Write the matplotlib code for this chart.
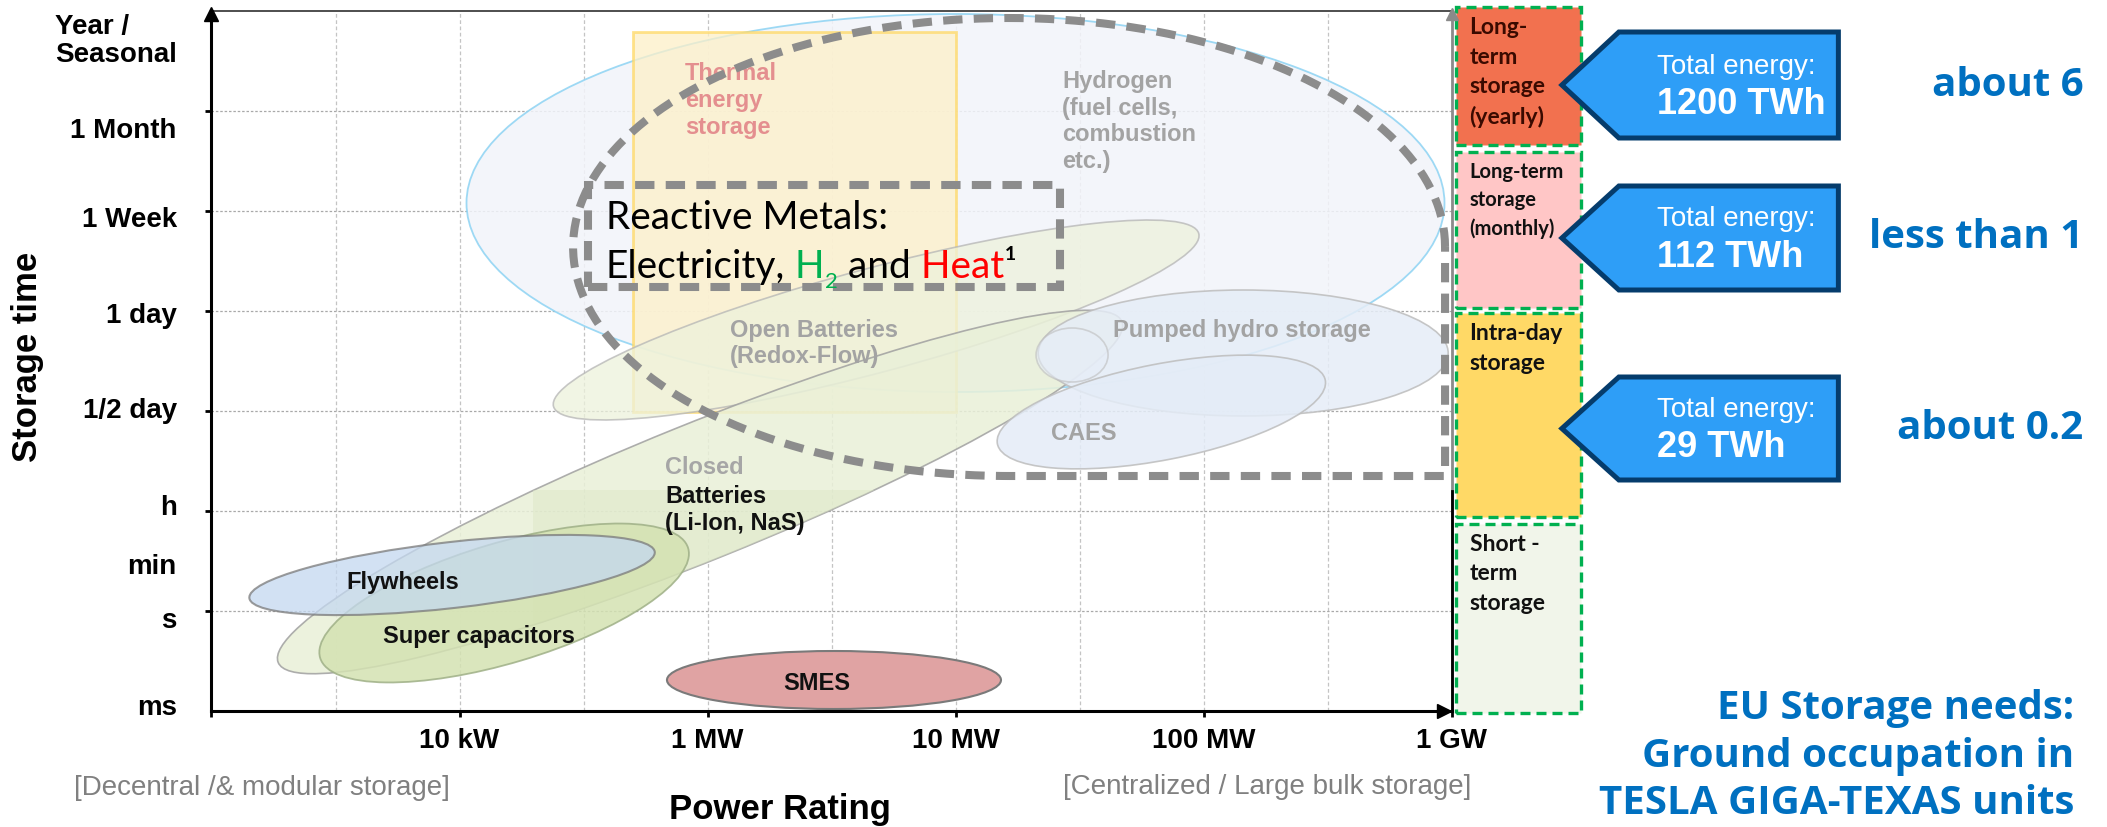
import numpy as np
import matplotlib
matplotlib.use("Agg")
import matplotlib.pyplot as plt
from matplotlib.patches import Ellipse, Rectangle, Polygon
from matplotlib.transforms import Affine2D

plt.rcParams['font.family'] = ['Liberation Sans', 'DejaVu Sans']

# ---------------- data ----------------
power_positions = [0, 1, 2, 3, 4, 5]
power_labels = ['', '10 kW', '1 MW', '10 MW', '100 MW', '1 GW']
time_positions = [1, 2, 3, 4, 5, 6]
time_label_positions = [0.06, 0.93, 1.47, 2.06, 3.03, 3.98, 4.94, 5.83, 6.74]
time_labels = ['ms', 's', 'min', 'h', '1/2 day', '1 day', '1 Week', '1 Month',
               'Year /\nSeasonal']

# technology regions: centre on power axis, centre on storage-time axis,
# half length, half width, tilt
tech_names = ['Hydrogen', 'Open Batteries', 'Closed Batteries', 'Pumped hydro',
              'Pumped hydro (reservoir)', 'CAES', 'Super capacitors',
              'Flywheels', 'SMES']
tech_power = [3.00, 2.68, 1.97, 4.16, 3.47, 3.83, 1.18, 0.97, 2.51]
tech_time = [5.08, 3.91, 2.19, 3.58, 3.56, 2.99, 1.08, 1.36, 0.31]
tech_half_len = [4.89, 3.34, 4.55, 2.05, 0.36, 1.67, 1.92, 2.04, 1.67]
tech_half_wid = [1.89, 0.52, 0.68, 0.63, 0.27, 0.48, 0.60, 0.33, 0.29]
tech_tilt = [0, 15, 22, 0, 0, 11, 16.6, 6.5, 0]

thermal_power = [1.70, 3.00]
thermal_time = [2.99, 6.79]

rm_power_center, rm_time_center = 3.216, 4.64
rm_power_half, rm_time_half = 1.758, 2.29
rm_box_power = [1.518, 3.42]
rm_box_time = [4.24, 5.26]

class_labels = ['Long-\nterm\nstorage\n(yearly)', 'Long-term\nstorage\n(monthly)',
                'Intra-day\nstorage', 'Short -\nterm\nstorage']
class_top = [7.04, 5.59, 3.98, 1.87]
class_bottom = [5.66, 4.03, 1.94, -0.02]

energy_labels = ['1200 TWh', '112 TWh', '29 TWh']
callout_top = [6.79, 5.25, 3.34]
callout_bottom = [5.73, 4.21, 2.31]
giga_texas_units = ['about 6', 'less than 1', 'about 0.2']

# ---------------- figure ----------------
PX_X, PX_Y = 248.0, 100.0
K = PX_X / PX_Y
fig = plt.figure(figsize=(21.07, 8.27), dpi=100)
ax = fig.add_axes([0, 0, 1, 1])
ax.set_xlim(-211.5 / PX_X, (2107 - 211.5) / PX_X)
ax.set_ylim(-1.16, 7.11)
scaled = Affine2D().scale(1.0 / K, 1.0) + ax.transData

# spines / axes
for s in ['top', 'right']:
    ax.spines[s].set_visible(False)
ax.spines['left'].set_position(('data', 0))
ax.spines['left'].set_bounds(0, 7)
ax.spines['bottom'].set_position(('data', 0))
ax.spines['bottom'].set_bounds(0, 5)
for s in ['left', 'bottom']:
    ax.spines[s].set_linewidth(2.2)
    ax.spines[s].set_zorder(6)

ax.set_xticks(power_positions)
ax.set_xticklabels(power_labels, fontsize=20, fontweight='bold')
ax.set_yticks(time_positions)
ax.set_yticklabels([''] * len(time_positions))
ax.set_yticks(time_label_positions, minor=True)
ax.set_yticklabels(time_labels, minor=True, fontsize=20, fontweight='bold')
ax.tick_params(axis='x', which='major', direction='out', length=4.5, width=2, pad=8)
ax.tick_params(axis='y', which='major', direction='out', length=4.5, width=2)
ax.tick_params(axis='y', which='minor', length=0, pad=25)
for t in ax.get_yticklabels(minor=True):
    if '\n' in t.get_text():
        t.set_multialignment('left')
        t.set_linespacing(1.08)

ax.set_ylabel('Storage time', fontsize=25, fontweight='bold', va='center')
ax.yaxis.set_label_coords(28 / 2107, 1 - 357 / 827)
ax.set_xlabel('Power Rating', fontsize=25, fontweight='bold', va='center')
ax.xaxis.set_label_coords(780 / 2107, 1 - 810 / 827)

# arrows and frame lines
ax.plot([0], [6.97], marker='^', ms=10, color='black', clip_on=False, zorder=7)
ax.plot([4.97], [0], marker='>', ms=10, color='black', clip_on=False, zorder=7)
ax.plot([0, 5], [7, 7], color='#404040', lw=1.3, zorder=6)
ax.plot([5, 5], [0, 7], color='#8a8a8a', lw=2, zorder=6)
ax.plot([5, 5], [0, 2.2], color='black', lw=2, zorder=6)
ax.plot([5], [6.97], marker='^', ms=9, color='#8a8a8a', zorder=7)

# grid
for gx in np.arange(0.5, 5.0, 0.5):
    ax.plot([gx, gx], [0, 7], color='#c4c4c4', lw=0.9, ls=(0, (3, 2)), zorder=0.5)
for gy in time_positions:
    ax.plot([0, 5], [gy, gy], color='#a9a9a9', lw=0.9, ls=(0, (2, 1.5)), zorder=0.5)

# ---------------- technology regions ----------------
tech_style = {
    'Hydrogen': dict(fc='#f2f4fa', ec='#8dd3f3', alpha=0.85, lw=1.3),
    'Open Batteries': dict(fc='#edf2dc', ec='#b5b5b5', alpha=0.75, lw=1.2),
    'Closed Batteries': dict(fc='#e9f0d8', ec='#a0a0a0', alpha=0.85, lw=1.2),
    'Pumped hydro': dict(fc='#e6edf7', ec='#bdbdbd', alpha=0.85, lw=1.2),
    'Pumped hydro (reservoir)': dict(fc='#e6edf7', ec='#bdbdbd', alpha=0.6, lw=1.2),
    'CAES': dict(fc='#e4ecf7', ec='#bdbdbd', alpha=0.85, lw=1.2),
    'Super capacitors': dict(fc='#d4e2b2', ec='#9fb087', alpha=0.85, lw=1.3),
    'Flywheels': dict(fc='#c4d8f0', ec='#7a7a7a', alpha=0.75, lw=1.5),
    'SMES': dict(fc='#e0a3a3', ec='#7a7a7a', alpha=1.0, lw=1.5),
}
for i, name in enumerate(tech_names):
    st = tech_style[name]
    e = Ellipse((tech_power[i] * K, tech_time[i]), 2 * tech_half_len[i],
                2 * tech_half_wid[i], angle=tech_tilt[i], transform=scaled,
                facecolor=st['fc'], edgecolor=st['ec'], alpha=st['alpha'],
                lw=st['lw'], zorder=1 + 0.1 * i)
    ax.add_patch(e)
    if name == 'Hydrogen':
        ax.add_patch(Rectangle((thermal_power[0], thermal_time[0]),
                               thermal_power[1] - thermal_power[0],
                               thermal_time[1] - thermal_time[0],
                               facecolor='#fdf0c8', edgecolor='#ffd966',
                               alpha=0.75, lw=2, zorder=1.05))
    if name == 'Closed Batteries':
        strip = Rectangle((1.296, -0.2), 1.39, 2.41, facecolor='#dbe6c4',
                          edgecolor='none', alpha=0.45, zorder=1.25)
        ax.add_patch(strip)
        strip.set_clip_path(e)

# reactive metals outline
th = np.linspace(0, 1.5 * np.pi, 300)
rx = rm_power_center + rm_power_half * np.cos(th)
ry = rm_time_center + rm_time_half * np.sin(th)
rx = np.append(rx, [rm_power_center + rm_power_half, rm_power_center + rm_power_half])
ry = np.append(ry, [rm_time_center - rm_time_half, rm_time_center])
ax.plot(rx, ry, color='#8c8c8c', lw=5.8, ls=(0, (2.4, 1.4)), zorder=8,
        solid_joinstyle='miter')
ax.add_patch(Rectangle((rm_box_power[0], rm_box_time[0]),
                       rm_box_power[1] - rm_box_power[0],
                       rm_box_time[1] - rm_box_time[0], fill=False,
                       edgecolor='#8c8c8c', lw=5.8, ls=(0, (2.4, 1.4)), zorder=8))

# technology labels
lab = dict(fontsize=17, fontweight='bold', va='center', ha='left', zorder=7,
           linespacing=1.2)
ax.text(1.909, 6.105, 'Thermal\nenergy\nstorage', color='#e48f8f', **lab)
ax.text(3.43, 5.895, 'Hydrogen\n(fuel cells,\ncombustion\netc.)', color='#a3a3a3', **lab)
ax.text(2.09, 3.675, 'Open Batteries\n(Redox-Flow)', color='#a3a3a3', **lab)
ax.text(3.635, 3.80, 'Pumped hydro storage', color='#a3a3a3', **lab)
ax.text(3.385, 2.78, 'CAES', color='#a3a3a3', **lab)
ax.text(1.829, 2.43, 'Closed', color='#a6a6a6', **lab)
ax.text(1.829, 2.01, 'Batteries\n(Li-Ion, NaS)', color='#111111', **lab)
ax.text(0.542, 1.29, 'Flywheels', color='#111111', **lab)
ax.text(0.691, 0.74, 'Super capacitors', color='#111111', **lab)
ax.text(2.44, 0.28, 'SMES', color='#111111', fontsize=17, fontweight='bold',
        va='center', ha='center', zorder=7)

# reactive metals text
rmf = dict(family=['Lato', 'DejaVu Sans'], fontsize=28, zorder=9)
ax.text(1.59, 4.93, 'Reactive Metals:', va='center', ha='left', color='black', **rmf)
t0 = ax.text(1.59, 4.44, 'Electricity,', va='center', ha='left', color='black', **rmf)
t1 = ax.annotate(' H', xy=(1, 0), xycoords=t0, va='bottom', ha='left', color='#00b050', **rmf)
t2 = ax.annotate('2', xy=(1, 0), xycoords=t1, xytext=(0.5, -5), textcoords='offset points',
                 va='bottom', ha='left', color='#00b050', family=['Lato', 'DejaVu Sans'],
                 fontsize=16, zorder=9)
t3 = ax.annotate(' and', xy=(1, 0), xycoords=t2, xytext=(0, 5), textcoords='offset points',
                 va='bottom', ha='left', color='black', **rmf)
t4 = ax.annotate(' Heat', xy=(1, 0), xycoords=t3, va='bottom', ha='left', color='#ff0000', **rmf)
ax.annotate('\u00b9', xy=(1, 0), xycoords=t4, va='bottom', ha='left', color='black', **rmf)

# bottom notes
ax.text(0.204, -0.77, '[Decentral /& modular storage]', fontsize=20, color='#808080',
        ha='center', va='center')
ax.text(4.256, -0.76, '[Centralized / Large bulk storage]', fontsize=20, color='#808080',
        ha='center', va='center')

# ---------------- storage classes ----------------
class_fc = ['#f2714f', '#ffc6c6', '#ffd966', '#f1f5ea']
class_tc = ['#3a0a00', '#111111', '#111111', '#111111']
class_fs = [16.5, 14.5, 16.5, 16.5]
bx0, bx1 = 5.018, 5.522
for i, lbl in enumerate(class_labels):
    ax.add_patch(Rectangle((bx0, class_bottom[i]), bx1 - bx0, class_top[i] - class_bottom[i],
                           facecolor=class_fc[i], edgecolor='#00b050', lw=2.4,
                           ls=(0, (3, 1.8)), zorder=5, clip_on=False))
    ax.text(bx0 + 0.055, class_top[i] - 0.1, lbl, family=['Lato', 'DejaVu Sans'],
            fontsize=class_fs[i], fontweight='bold', color=class_tc[i], ha='left',
            va='top', linespacing=1.5, zorder=6)

# callouts
bl, br, tipx = 5.675, 6.56, 5.445
for i, lbl in enumerate(energy_labels):
    top, bot = callout_top[i], callout_bottom[i]
    mid = 0.5 * (top + bot)
    ax.add_patch(Polygon([(tipx, mid), (bl, top), (br, top), (br, bot), (bl, bot)],
                         closed=True, facecolor='#2e9ef7', edgecolor='#053c6c',
                         lw=3.6, joinstyle='miter', zorder=6))
    ax.text(5.83, mid + 0.185, 'Total energy:', fontsize=20, color='white',
            ha='left', va='center', zorder=7)
    ax.text(5.83, mid - 0.195, lbl, fontsize=26, fontweight='bold', color='white',
            ha='left', va='center', zorder=7)
    ax.text(7.547, mid, giga_texas_units[i], family=['Open Sans', 'DejaVu Sans'],
            fontsize=29, fontweight='bold', color='#0070c0', ha='right', va='center')

ax.text(7.51, -0.45, 'EU Storage needs:\nGround occupation in\nTESLA GIGA-TEXAS units',
        family=['Open Sans', 'DejaVu Sans'], fontsize=29, fontweight='bold',
        color='#0070c0', ha='right', va='center', multialignment='right', linespacing=1.27)

fig.savefig('out.png', dpi=100, facecolor='white')
